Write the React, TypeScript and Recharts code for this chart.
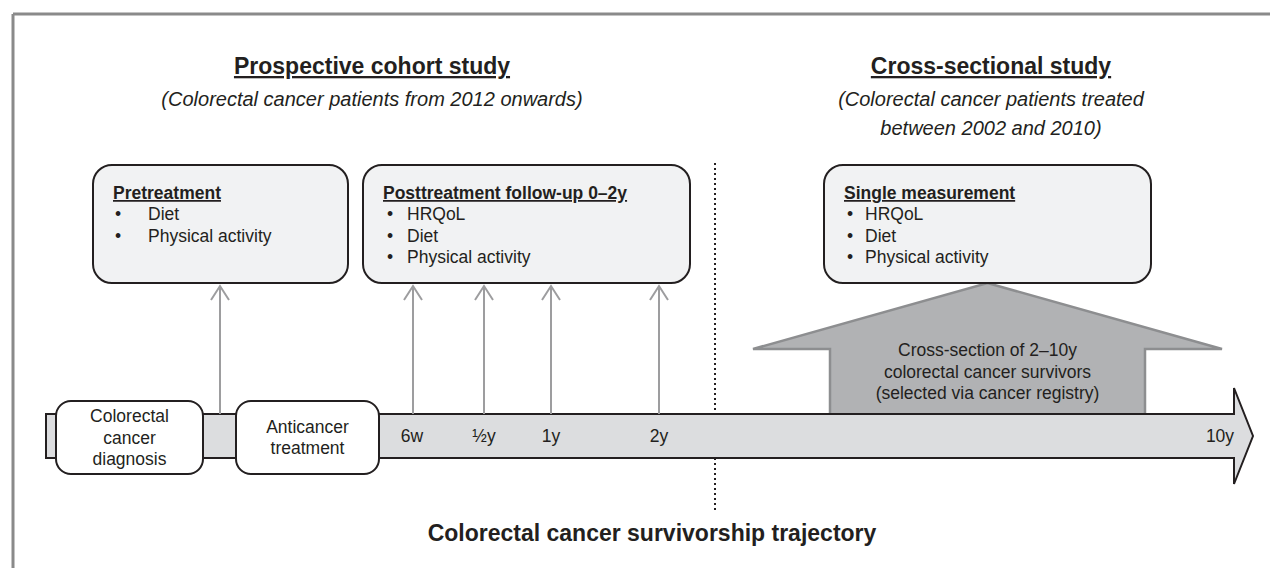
import React from "react";
import { ComposedChart, XAxis, YAxis, ReferenceArea, ReferenceLine, Scatter } from "recharts";

const WIDTH = 1270;
const HEIGHT = 568;
const FONT = '"Liberation Sans", Arial, Helvetica, sans-serif';
const INK = "#231f20";

// ---- content ----
const studyTitles = ["Prospective cohort study", "Cross-sectional study"];
const studyNotes = [
  ["(Colorectal cancer patients from 2012 onwards)"],
  ["(Colorectal cancer patients treated", "between 2002 and 2010)"],
];
const measureTitles = ["Pretreatment", "Posttreatment follow-up 0–2y", "Single measurement"];
const measureItems = [
  ["Diet", "Physical activity"],
  ["HRQoL", "Diet", "Physical activity"],
  ["HRQoL", "Diet", "Physical activity"],
];
const stageLabels = [
  ["Colorectal", "cancer", "diagnosis"],
  ["Anticancer", "treatment"],
];
const timepoints = ["6w", "½y", "1y", "2y", "10y"];
const crossSectionLines = [
  "Cross-section of 2–10y",
  "colorectal cancer survivors",
  "(selected via cancer registry)",
];
const trajectoryTitle = "Colorectal cancer survivorship trajectory";

// ---- layout (diagram units, 1 unit = 1px) ----
const studyX = [372, 991];
const boxLeft = [93, 363, 824];
const boxRight = [348, 690, 1151];
const boxTop = 165;
const boxBottom = 283;
const bulletGap = [[22, 55], [24, 44], [23, 41]];
const stageLeft = [56, 236];
const stageRight = [203, 379];
const stageTop = 401;
const stageBottom = 474;
const timepointX = [412, 484, 551, 659, 1220];
const measureArrowX = [220, 413, 484, 551, 659];
const bar = { left: 46, right: 1234, top: 414, bottom: 458, tip: 1253, spikeTop: 388, spikeBottom: 484 };
const house = { left: 753, right: 1222, top: 283, wing: 349, stemLeft: 830, stemRight: 1145, base: 414 };
const divider = { x: 715, top: 163, bottom: 510 };

type Mark = { x: number; y: number; text: string };

const headingMarks: Mark[] = studyTitles.map((t, i) => ({ x: studyX[i], y: 74, text: t }));
const noteMarks: Mark[] = studyNotes.flatMap((lines, i) =>
  lines.map((t, j) => ({ x: studyX[i], y: 106 + j * 29, text: t }))
);
const boxTitleMarks: Mark[] = measureTitles.map((t, i) => ({ x: boxLeft[i] + 20, y: 199, text: t }));
const bulletMarks: Mark[] = measureItems.flatMap((items, i) =>
  items.map((_, j) => ({ x: boxLeft[i] + bulletGap[i][0], y: 220 + j * 21.5, text: "•" }))
);
const itemMarks: Mark[] = measureItems.flatMap((items, i) =>
  items.map((t, j) => ({ x: boxLeft[i] + bulletGap[i][1], y: 220 + j * 21.5, text: t }))
);
const centeredMarks: Mark[] = [
  ...stageLabels.flatMap((lines, i) => {
    const mid = (stageTop + stageBottom) / 2;
    const first = mid - ((lines.length - 1) * 21.5) / 2;
    return lines.map((t, j) => ({ x: (stageLeft[i] + stageRight[i]) / 2, y: first + j * 21.5 + 6, text: t }));
  }),
  ...timepoints.map((t, i) => ({ x: timepointX[i], y: 442, text: t })),
  ...crossSectionLines.map((t, j) => ({ x: (house.stemLeft + house.stemRight) / 2, y: 356 + j * 21.5, text: t })),
];
const bottomMarks: Mark[] = [{ x: 652, y: 541, text: trajectoryTitle }];

const textShape = (style: Record<string, any>, css?: React.CSSProperties) => (p: any) => (
  <text x={p.cx} y={p.cy} fontFamily={FONT} fill={INK} style={css} {...style}>
    {p.payload.text}
  </text>
);

// map data coords to pixels inside a reference area's rect
const mapper = (p: any, x1: number, x2: number, y1: number, y2: number) => ({
  sx: (v: number) => p.x + ((v - x1) / (x2 - x1)) * p.width,
  sy: (v: number) => p.y + ((v - y1) / (y2 - y1)) * p.height,
});

const roundedBox = (fill: string, r: number) => (p: any) => (
  <rect x={p.x} y={p.y} width={p.width} height={p.height} rx={r} ry={r} fill={fill} stroke={INK} strokeWidth={2} />
);

const houseShape = (p: any) => {
  const { sx, sy } = mapper(p, house.left, house.right, house.top, house.base);
  const apex = (house.left + house.right) / 2;
  const outline = `M${sx(house.stemLeft)},${sy(house.base)} L${sx(house.stemLeft)},${sy(house.wing)} L${sx(house.left)},${sy(house.wing)} L${sx(apex)},${sy(house.top)} L${sx(house.right)},${sy(house.wing)} L${sx(house.stemRight)},${sy(house.wing)} L${sx(house.stemRight)},${sy(house.base)}`;
  return (
    <g>
      <path d={outline + " Z"} fill="#b1b2b4" stroke="none" />
      <path d={outline} fill="none" stroke="#8d8e90" strokeWidth={2.5} />
    </g>
  );
};

const timelineShape = (p: any) => {
  const { sx, sy } = mapper(p, bar.left, bar.tip, bar.spikeTop, bar.spikeBottom);
  const mid = (bar.top + bar.bottom) / 2;
  const d = `M${sx(bar.left)},${sy(bar.top)} L${sx(bar.right)},${sy(bar.top)} L${sx(bar.right)},${sy(bar.spikeTop)} L${sx(bar.tip)},${sy(mid)} L${sx(bar.right)},${sy(bar.spikeBottom)} L${sx(bar.right)},${sy(bar.bottom)} L${sx(bar.left)},${sy(bar.bottom)} Z`;
  return <path d={d} fill="#dcdddf" stroke={INK} strokeWidth={2} strokeLinejoin="miter" />;
};

const upArrowShape = (p: any) => {
  const cx = p.x + p.width / 2;
  const top = p.y;
  const bottom = p.y + p.height;
  const d = `M${cx},${bottom} L${cx},${top + 1} M${p.x},${top + 15} L${cx},${top + 1} L${p.x + p.width},${top + 15}`;
  return <path d={d} fill="none" stroke="#9d9d9f" strokeWidth={2} />;
};

export default function App() {
  return (
    <div style={{ position: "absolute", left: 0, top: 0, background: "#fff" }}>
      <ComposedChart width={WIDTH} height={HEIGHT} margin={{ top: 0, right: 0, bottom: 0, left: 0 }}>
        <XAxis type="number" dataKey="x" domain={[0, WIDTH]} hide allowDataOverflow />
        <YAxis type="number" dataKey="y" domain={[0, HEIGHT]} reversed hide allowDataOverflow />

        {/* frame */}
        <ReferenceLine segment={[{ x: 13, y: 14 }, { x: WIDTH, y: 14 }]} stroke="#8a8a8a" strokeWidth={3} ifOverflow="visible" />
        <ReferenceLine segment={[{ x: 13, y: 14 }, { x: 13, y: HEIGHT }]} stroke="#8a8a8a" strokeWidth={3} ifOverflow="visible" />

        {/* divider between the two designs */}
        <ReferenceLine segment={[{ x: divider.x, y: divider.top }, { x: divider.x, y: bar.top }]} stroke={INK} strokeWidth={2} strokeDasharray="2 3" />
        <ReferenceLine segment={[{ x: divider.x, y: bar.bottom }, { x: divider.x, y: divider.bottom }]} stroke={INK} strokeWidth={2} strokeDasharray="2 3" />

        <ReferenceArea x1={house.left} x2={house.right} y1={house.top} y2={house.base} shape={houseShape} />
        <ReferenceArea x1={bar.left} x2={bar.tip} y1={bar.spikeTop} y2={bar.spikeBottom} shape={timelineShape} />

        {measureTitles.map((t, i) => (
          <ReferenceArea key={t} x1={boxLeft[i]} x2={boxRight[i]} y1={boxTop} y2={boxBottom} shape={roundedBox("#f1f2f3", 19)} />
        ))}
        {stageLabels.map((l, i) => (
          <ReferenceArea key={l[0]} x1={stageLeft[i]} x2={stageRight[i]} y1={stageTop} y2={stageBottom} shape={roundedBox("#ffffff", 15)} />
        ))}
        {measureArrowX.map((x) => (
          <ReferenceArea key={x} x1={x - 9} x2={x + 9} y1={boxBottom + 2} y2={bar.top} shape={upArrowShape} />
        ))}

        <Scatter
          data={headingMarks}
          isAnimationActive={false}
          shape={textShape(
            { fontSize: 23, fontWeight: 700, textAnchor: "middle", textDecoration: "underline" },
            { textUnderlineOffset: "6px", textDecorationThickness: "2px" }
          )}
        />
        <Scatter data={noteMarks} isAnimationActive={false} shape={textShape({ fontSize: 20, fontStyle: "italic", textAnchor: "middle" })} />
        <Scatter data={boxTitleMarks} isAnimationActive={false} shape={textShape({ fontSize: 17.5, fontWeight: 700, textDecoration: "underline" })} />
        <Scatter data={bulletMarks} isAnimationActive={false} shape={textShape({ fontSize: 17.5 })} />
        <Scatter data={itemMarks} isAnimationActive={false} shape={textShape({ fontSize: 17.5 })} />
        <Scatter data={centeredMarks} isAnimationActive={false} shape={textShape({ fontSize: 17.5, textAnchor: "middle" })} />
        <Scatter data={bottomMarks} isAnimationActive={false} shape={textShape({ fontSize: 23, fontWeight: 700, textAnchor: "middle" })} />
      </ComposedChart>
    </div>
  );
}
